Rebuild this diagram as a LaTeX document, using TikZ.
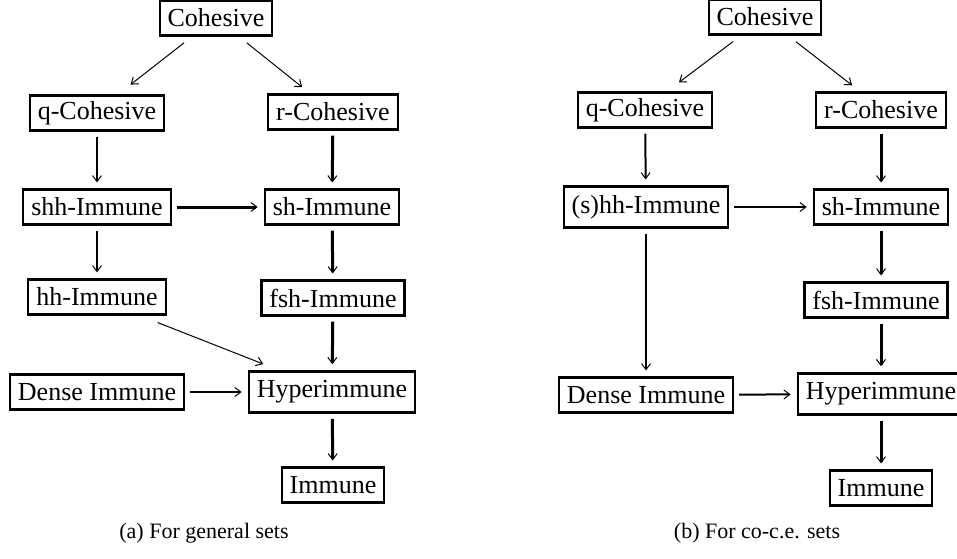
\documentclass[tikz,border=0pt]{standalone}
\usepackage{fontspec}
\setmainfont{Liberation Serif}
\usetikzlibrary{arrows.meta}
\begin{document}
\begin{tikzpicture}[x=1pt,y=-1pt,
  box/.style={draw, line width=2.2pt, inner xsep=8pt, inner ysep=0pt, minimum height=35pt,
    font=\fontsize{26}{30}\selectfont},
  bigbox/.style={box, minimum height=41pt, line width=2.6pt},
  tiparr/.style={-{Straight Barb[length=6pt,width=9pt,line width=1pt]}, shorten <=5pt, shorten >=6pt},
  thinarr/.style={tiparr, line width=1pt, shorten <=10pt, shorten >=10pt},
  midarr/.style={tiparr, line width=2pt},
  thickarr/.style={tiparr, line width=3pt},
  captxt/.style={font=\fontsize{22}{26}\selectfont}]
\useasboundingbox (0,0) rectangle (957,558);
% (a)
\node[box] (aC) at (216,18) {Cohesive};
\node[box] (aq) at (97,113) {q-Cohesive};
\node[box] (ar) at (333,112) {r-Cohesive};
\node[box] (ashh) at (97,207) {shh-Immune};
\node[box] (ash) at (332,207) {sh-Immune};
\node[box] (ahh) at (97,297) {hh-Immune};
\node[box] (afsh) at (333,298) {fsh-Immune};
\node[box] (aD) at (97,392) {Dense Immune};
\node[bigbox] (aH) at (332,392) {Hyperimmune};
\node[box] (aI) at (333,485) {Immune};
\node[captxt] (acap) at (204,533) {(a) For general sets};
\draw[thinarr, shorten >=16pt] ([xshift=-24pt]aC.south) -- ([xshift=21pt]aq.north);
\draw[thinarr] ([xshift=23pt]aC.south) -- ([xshift=-23pt]ar.north);
\draw[midarr] (aq) -- (ashh);
\draw[thickarr] (ar) -- (ash);
\draw[thickarr] (ashh) -- (ash);
\draw[midarr] (ashh) -- (ahh);
\draw[thickarr] (ash) -- (afsh);
\draw[thinarr, shorten <=19pt, shorten >=17pt] ([xshift=43pt]ahh.south) -- ([xshift=-53pt]aH.north);
\draw[thickarr] (afsh) -- (aH);
\draw[midarr] (aD) -- (aH);
\draw[thickarr] (aH) -- (aI);
% (b)
\node[box] (bC) at (765,17) {Cohesive};
\node[box] (bq) at (645,110) {q-Cohesive};
\node[box] (br) at (881,110) {r-Cohesive};
\node[bigbox, line width=2.2pt] (bshh) at (646,207) {(s)hh-Immune};
\node[box] (bsh) at (881,207) {sh-Immune};
\node[box] (bfsh) at (876,300) {fsh-Immune};
\node[box] (bD) at (646,395) {Dense Immune};
\node[bigbox] (bH) at (881,394) {Hyperimmune};
\node[box] (bI) at (881,488) {Immune};
\node[captxt] (bcap) at (757,533) {(b) For co-c.e. sets};
\draw[thinarr, shorten >=15pt] ([xshift=-24pt]bC.south) -- ([xshift=22pt]bq.north);
\draw[thinarr] ([xshift=23pt]bC.south) -- ([xshift=-21pt]br.north);
\draw[midarr] (bq) -- (bshh);
\draw[thickarr] (br) -- (bsh);
\draw[midarr] (bshh) -- (bsh);
\draw[midarr] (bshh) -- (bD);
\draw[thickarr] (bsh.south) -- (bsh.south|-bfsh.north);
\draw[thickarr] (bsh.south|-bfsh.south) -- (bH);
\draw[midarr] (bD) -- (bH);
\draw[thickarr] (bH) -- (bI);
\end{tikzpicture}
\end{document}
